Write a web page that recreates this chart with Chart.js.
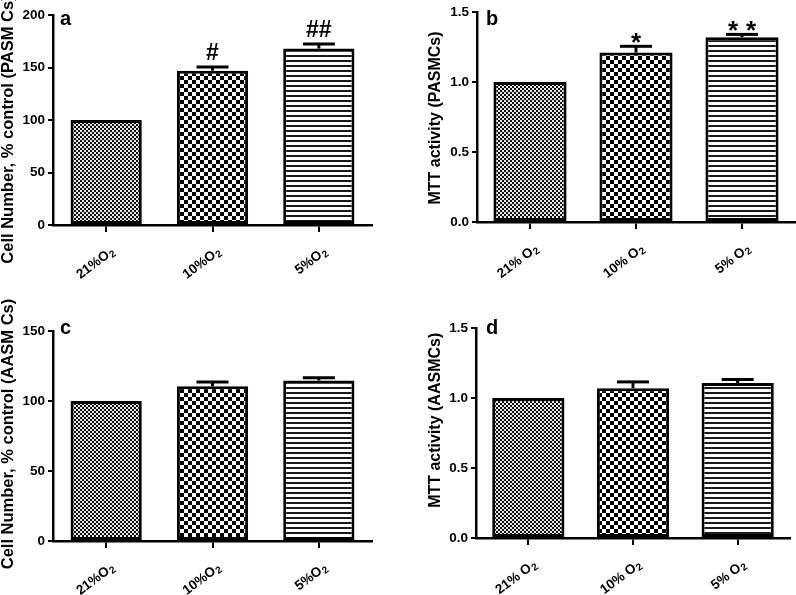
<!DOCTYPE html>
<html><head><meta charset="utf-8">
<script src="https://cdn.jsdelivr.net/npm/chart.js@4/dist/chart.umd.min.js"></script>
<style>
html,body{margin:0;padding:0;background:#fff;}
#wrap{position:relative;width:796px;height:595px;overflow:hidden;background:#fff;}
canvas{position:absolute;}
</style></head><body>
<div id="wrap">
<canvas id="ca" width="398" height="297" style="left:0;top:0;width:398px;height:297px"></canvas>
<canvas id="cb" width="398" height="297" style="left:398px;top:0;width:398px;height:297px"></canvas>
<canvas id="cc" width="398" height="298" style="left:0;top:297px;width:398px;height:298px"></canvas>
<canvas id="cd" width="398" height="298" style="left:398px;top:297px;width:398px;height:298px"></canvas>
</div>
<script>
// ---- data ----
const categoriesCell = ['21%O\u2082', '10%O\u2082', '5%O\u2082'];
const categoriesMTT = ['21% O\u2082', '10% O\u2082', '5% O\u2082'];

const cellPASMC = [100, 147, 168];
const cellPASMCErr = [0, 3.5, 4.5];
const cellPASMCSig = ['', '#', '##'];

const mttPASMC = [1.0, 1.21, 1.32];
const mttPASMCErr = [0, 0.045, 0.02];
const mttPASMCSig = ['', '*', '**'];

const cellAASMC = [100, 110.5, 114.6];
const cellAASMCErr = [0, 3, 2];
const cellAASMCSig = ['', '', ''];

const mttAASMC = [1.0, 1.07, 1.107];
const mttAASMCErr = [0, 0.045, 0.025];
const mttAASMCSig = ['', '', ''];

const ticksCell1 = [0, 50, 100, 150, 200];
const ticksMTT = [0, 0.5, 1.0, 1.5];
const ticksCell2 = [0, 50, 100, 150];

const FONT = '"Liberation Sans", Arial, Helvetica, sans-serif';
const LABEL_ANGLE_DEG = 37;

function makePattern(kind) {
  const c = document.createElement('canvas');
  const g = c.getContext('2d');
  if (kind === 'fine') {
    c.width = 4; c.height = 4;
    g.fillStyle = '#e6e6e6'; g.fillRect(0, 0, 4, 4);
    g.fillStyle = '#111'; g.fillRect(0, 0, 2, 2); g.fillRect(2, 2, 2, 2);
  } else if (kind === 'check') {
    c.width = 8; c.height = 8;
    g.fillStyle = '#fff'; g.fillRect(0, 0, 8, 8);
    g.fillStyle = '#000'; g.fillRect(0, 0, 4, 4); g.fillRect(4, 4, 4, 4);
  } else {
    c.width = 4; c.height = 5;
    g.fillStyle = '#fff'; g.fillRect(0, 0, 4, 5);
    g.fillStyle = '#1a1a1a'; g.fillRect(0, 0, 4, 2);
  }
  return g.createPattern(c, 'repeat');
}

const extrasPlugin = {
  id: 'extras',
  afterDatasetsDraw(chart, args, opts) {
    const ctx = chart.ctx;
    const meta = chart.getDatasetMeta(0);
    const ys = chart.scales.y;
    const xs = chart.scales.x;
    const vals = chart.data.datasets[0].data;
    ctx.save();
    ctx.setTransform(1, 0, 0, 1, 0, 0);
    ctx.strokeStyle = '#000';
    ctx.fillStyle = '#000';
    for (let i = 0; i < vals.length; i++) {
      const e = opts.errs[i];
      const x = meta.data[i].x;
      let topY = ys.getPixelForValue(vals[i]);
      if (e > 0) {
        const yb = ys.getPixelForValue(vals[i]);
        topY = ys.getPixelForValue(vals[i] + e);
        ctx.lineWidth = 3;
        ctx.beginPath(); ctx.moveTo(x, yb); ctx.lineTo(x, topY); ctx.stroke();
        ctx.beginPath(); ctx.moveTo(x - 16, topY); ctx.lineTo(x + 16, topY); ctx.stroke();
      }
      const s = opts.sig[i];
      if (s) {
        const isStar = s[0] === '*';
        ctx.font = 'bold ' + (isStar ? 26 : 23) + 'px ' + FONT;
        ctx.textBaseline = 'alphabetic';
        ctx.textAlign = 'left';
        const gap = isStar ? 8 : 0;
        const widths = [...s].map(ch => ctx.measureText(ch).width);
        const total = widths.reduce((a, b) => a + b, 0) + gap * (s.length - 1);
        let cx = x - total / 2;
        const by = isStar ? topY + 5 : topY - 7;
        [...s].forEach((ch, k) => { ctx.fillText(ch, cx, by); cx += widths[k] + gap; });
      }
    }
    const ca = chart.chartArea;
    // panel letter
    ctx.font = 'bold 20px ' + FONT;
    ctx.textAlign = 'left';
    ctx.textBaseline = 'alphabetic';
    ctx.fillText(opts.letter, ca.left + opts.letterDx, ca.top + opts.letterDy);

    // y-axis title
    ctx.save();
    ctx.translate(opts.titleX, (ca.top + ca.bottom) / 2 + opts.titleDy);
    ctx.rotate(-Math.PI / 2);
    ctx.font = 'bold ' + opts.titleSize + 'px ' + FONT;
    ctx.textAlign = 'center';
    ctx.textBaseline = 'middle';
    ctx.fillText(opts.title, 0, 0);
    ctx.restore();

    // x tick labels (rotated, with subscript 2)
    const labels = chart.data.labels;
    const ang = -LABEL_ANGLE_DEG * Math.PI / 180;
    for (let i = 0; i < labels.length; i++) {
      const lab = labels[i];
      const main = lab.replace('\u2082', '');
      const hasSub = lab.indexOf('\u2082') >= 0;
      ctx.font = 'bold 13.5px ' + FONT;
      const wm = ctx.measureText(main).width;
      ctx.font = 'bold 10px ' + FONT;
      const ws = hasSub ? ctx.measureText('2').width + 0.5 : 0;
      const tx = xs.getPixelForTick(i) + 3;
      const ty = xs.top + 20;
      ctx.save();
      ctx.translate(tx, ty);
      ctx.rotate(ang);
      ctx.textAlign = 'left';
      ctx.textBaseline = 'alphabetic';
      ctx.font = 'bold 13.5px ' + FONT;
      ctx.fillText(main, -(wm + ws), 10);
      if (hasSub) {
        ctx.font = 'bold 10px ' + FONT;
        ctx.fillText('2', -ws + 0.5, 12.5);
      }
      ctx.restore();
    }
    ctx.restore();
  }
};

function panel(id, cfg) {
  const ctx = document.getElementById(id).getContext('2d');
  const pats = [makePattern('fine'), makePattern('check'), makePattern('lines')];
  return new Chart(ctx, {
    type: 'bar',
    data: {
      labels: cfg.labels,
      datasets: [{
        data: cfg.values,
        backgroundColor: pats,
        borderColor: '#000',
        borderWidth: 3,
        borderSkipped: false,
        barPercentage: cfg.barPct,
        categoryPercentage: 1
      }]
    },
    options: {
      responsive: false,
      animation: false,
      devicePixelRatio: 1,
      layout: { padding: { top: cfg.top, right: cfg.right, left: 0, bottom: 0 } },
      plugins: {
        legend: { display: false },
        tooltip: { enabled: false },
        extras: { errs: cfg.errs, sig: cfg.sig, letter: cfg.letter, letterDx: cfg.letterDx, letterDy: cfg.letterDy,
                  title: cfg.title, titleX: cfg.titleX, titleDy: cfg.titleDy, titleSize: cfg.titleSize }
      },
      scales: {
        x: {
          offset: true,
          afterFit(s) { s.height = cfg.xHeight; },
          grid: { display: true, drawOnChartArea: false, drawTicks: true, offset: false, tickLength: 7, color: '#000', lineWidth: 2 },
          border: { display: true, color: '#000', width: 2.5 },
          ticks: { display: false }
        },
        y: {
          min: cfg.ticks[0],
          max: cfg.ticks[cfg.ticks.length - 1],
          afterFit(s) { s.width = cfg.yWidth; },
          afterBuildTicks(s) { s.ticks = cfg.ticks.map(v => ({ value: v })); },
          grid: { display: true, drawOnChartArea: false, drawTicks: true, tickLength: 5, color: '#000', lineWidth: 2 },
          border: { display: true, color: '#000', width: 2.5 },
          ticks: {
            color: '#000', padding: 3,
            font: { family: FONT, size: 13.5, weight: 'bold' },
            callback: v => cfg.decimals ? Number(v).toFixed(cfg.decimals) : String(v)
          },
          title: { display: false }
        }
      }
    },
    plugins: [extrasPlugin]
  });
}

panel('ca', { labels: categoriesCell, values: cellPASMC, errs: cellPASMCErr, sig: cellPASMCSig, ticks: ticksCell1, decimals: 0,
  title: 'Cell Number, % control (PASM Cs)', titleX: 8.5, titleDy: 9.5, titleSize: 16.5,
  letter: 'a', letterDx: 7, letterDy: 10,
  top: 15, right: 26, xHeight: 72, yWidth: 53, barPct: 0.67 });
panel('cb', { labels: categoriesMTT, values: mttPASMC, errs: mttPASMCErr, sig: mttPASMCSig, ticks: ticksMTT, decimals: 1,
  title: 'MTT activity (PASMCs)', titleX: 37.5, titleDy: 1, titleSize: 16,
  letter: 'b', letterDx: 9, letterDy: 13,
  top: 12, right: 1, xHeight: 75, yWidth: 79, barPct: 0.69 });
panel('cc', { labels: categoriesCell, values: cellAASMC, errs: cellAASMCErr, sig: cellAASMCSig, ticks: ticksCell2, decimals: 0,
  title: 'Cell Number, % control (AASM Cs)', titleX: 8.5, titleDy: -2, titleSize: 16.5,
  letter: 'c', letterDx: 7, letterDy: 3,
  top: 34, right: 26, xHeight: 54, yWidth: 53, barPct: 0.67 });
panel('cd', { labels: categoriesMTT, values: mttAASMC, errs: mttAASMCErr, sig: mttAASMCSig, ticks: ticksMTT, decimals: 1,
  title: 'MTT activity (AASMCs)', titleX: 37.5, titleDy: -12.7, titleSize: 16,
  letter: 'd', letterDx: 10, letterDy: 6,
  top: 31, right: 6, xHeight: 57, yWidth: 78, barPct: 0.69 });
</script>
</body></html>
